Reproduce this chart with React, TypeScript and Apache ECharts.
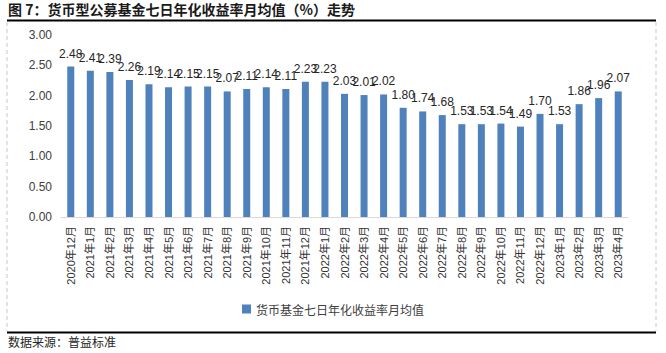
import React, { useEffect, useRef } from "react";
import * as echarts from "echarts";

const categories = [
  "2020年12月", "2021年1月", "2021年2月", "2021年3月", "2021年4月", "2021年5月",
  "2021年6月", "2021年7月", "2021年8月", "2021年9月", "2021年10月", "2021年11月",
  "2021年12月", "2022年1月", "2022年2月", "2022年3月", "2022年4月", "2022年5月",
  "2022年6月", "2022年7月", "2022年8月", "2022年9月", "2022年10月", "2022年11月",
  "2022年12月", "2023年1月", "2023年2月", "2023年3月", "2023年4月",
];

const yieldValues = [
  2.48, 2.41, 2.39, 2.26, 2.19, 2.14, 2.15, 2.15, 2.07, 2.11, 2.14, 2.11,
  2.23, 2.23, 2.03, 2.01, 2.02, 1.80, 1.74, 1.68, 1.53, 1.53, 1.54, 1.49,
  1.70, 1.53, 1.86, 1.96, 2.07,
];

const seriesName = "货币基金七日年化收益率月均值";
const titleText = "图 7：货币型公募基金七日年化收益率月均值（%）走势";
const sourceText = "数据来源：普益标准";

export default function App() {
  const ref = useRef<HTMLDivElement>(null);

  useEffect(() => {
    if (!ref.current) return;
    const chart = echarts.init(ref.current, undefined, { renderer: "svg" });
    const cjk = "'Noto Sans CJK SC', 'Liberation Sans', sans-serif";
    chart.setOption({
      animation: false,
      backgroundColor: "#ffffff",
      grid: { left: 61, right: 38, top: 35, bottom: 136, containLabel: false },
      xAxis: {
        type: "category",
        data: categories,
        axisLine: { show: true, lineStyle: { color: "#d9d9d9", width: 1 } },
        axisTick: { show: false },
        axisLabel: {
          rotate: 90,
          interval: 0,
          margin: 9,
          fontSize: 11,
          color: "#333333",
          fontFamily: "'Liberation Sans', 'Noto Sans CJK SC', sans-serif",
        },
      },
      yAxis: {
        type: "value",
        min: 0,
        max: 3,
        interval: 0.5,
        axisLine: { show: false },
        axisTick: { show: false },
        splitLine: { show: false },
        axisLabel: {
          formatter: (v: number) => v.toFixed(2),
          fontSize: 12,
          color: "#404040",
          margin: 9,
          fontFamily: "'Liberation Sans', sans-serif",
        },
      },
      legend: {
        show: true,
        bottom: 33,
        left: "center",
        itemWidth: 9,
        itemHeight: 9,
        itemGap: 4,
        icon: "rect",
        textStyle: { fontSize: 12, color: "#404040", fontFamily: cjk },
        data: [seriesName],
      },
      series: [
        {
          name: seriesName,
          type: "bar",
          data: yieldValues,
          barWidth: 7,
          itemStyle: { color: "#4F81BD" },
          label: {
            show: true,
            position: "top",
            distance: 7,
            fontSize: 12,
            color: "#262626",
            fontFamily: "'Liberation Sans', sans-serif",
            formatter: (p: any) => Number(p.value).toFixed(2),
          },
        },
      ],
      graphic: [
        {
          type: "text",
          left: 8,
          top: 2,
          style: {
            text: titleText,
            fontSize: 14,
            fontWeight: "bold",
            fill: "#1a1a1a",
            fontFamily: cjk,
          },
        },
        {
          type: "line",
          shape: { x1: 7, y1: 20.5, x2: 656, y2: 20.5 },
          style: { stroke: "#000000", lineWidth: 2 },
        },
        {
          type: "polyline",
          shape: { points: [[7, 22], [7, 331]] },
          style: { stroke: "#c8c8c8", lineWidth: 1, lineDash: [4, 3], fill: null },
        },
        {
          type: "polyline",
          shape: { points: [[656, 22], [656, 331]] },
          style: { stroke: "#c8c8c8", lineWidth: 1, lineDash: [4, 3], fill: null },
        },
        {
          type: "line",
          shape: { x1: 7, y1: 332.5, x2: 656, y2: 332.5 },
          style: { stroke: "#000000", lineWidth: 2 },
        },
        {
          type: "text",
          left: 8,
          top: 335,
          style: {
            text: sourceText,
            fontSize: 12,
            fill: "#262626",
            fontFamily: cjk,
          },
        },
      ],
    });
    return () => chart.dispose();
  }, []);

  return (
    <div
      ref={ref}
      style={{ position: "fixed", left: 0, top: 0, width: 666, height: 353 }}
    />
  );
}
